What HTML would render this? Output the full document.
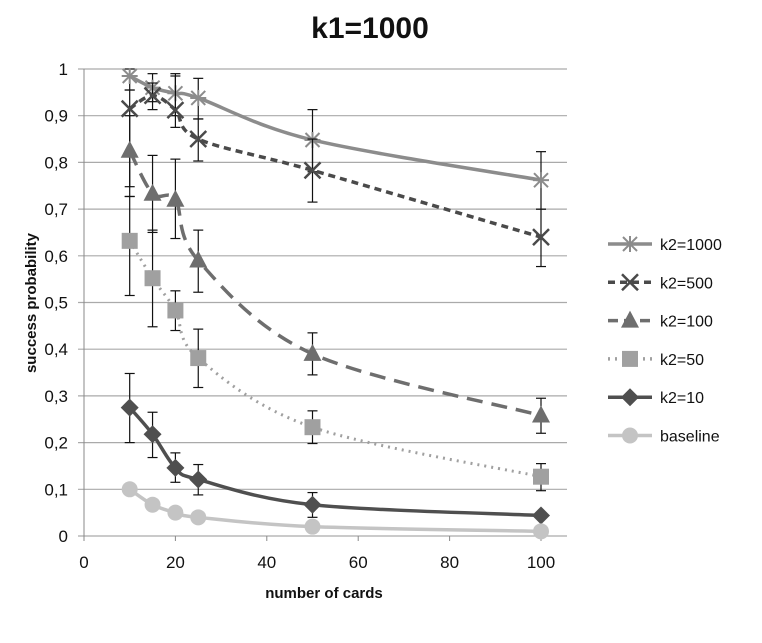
<!DOCTYPE html>
<html><head><meta charset="utf-8"><style>
body{margin:0;background:#fff;width:762px;height:638px;overflow:hidden}
svg{font-family:"Liberation Sans",sans-serif}
</style></head><body>
<svg id="s" width="762" height="638" xmlns="http://www.w3.org/2000/svg"></svg>
<script>
const X=v=>84+v*4.57, Y=v=>536-v*467;
let o='';
o+='<text x="370" y="38" font-size="30" font-weight="bold" text-anchor="middle" fill="#111">k1=1000</text>';
for(let i=0;i<=10;i++){const y=Y(i/10);o+=`<line x1="78" x2="567" y1="${y}" y2="${y}" stroke="#aaa" stroke-width="1.2"/>`;
o+=`<text x="68" y="${y+6}" font-size="17" text-anchor="end" fill="#111">${i==0?'0':i==10?'1':'0,'+i}</text>`;}
o+=`<line x1="84" x2="84" y1="${Y(1)}" y2="541" stroke="#888"/>`;
for(let i=0;i<=5;i++){const x=X(i*20);o+=`<line x1="${x}" x2="${x}" y1="536" y2="541" stroke="#888"/><text x="${x}" y="568" font-size="17" text-anchor="middle" fill="#111">${i*20}</text>`;}
o+='<text x="324" y="598" font-size="15" font-weight="bold" text-anchor="middle" fill="#111">number of cards</text>';
o+='<text transform="translate(36,303) rotate(-90)" font-size="15" font-weight="bold" text-anchor="middle" fill="#111">success probability</text>';
const xs=[10,15,20,25,50,100];
const S=[
{n:'k2=1000',c:'#8c8c8c',d:'',m:'star',v:[.985,.96,.948,.938,.848,.762],e:[[.955,1],[.93,.99],[.9,.99],[.893,.98],[.78,.913],[.7,.823]]},
{n:'k2=500',c:'#4a4a4a',d:'7,5',m:'x',v:[.915,.943,.912,.85,.783,.64],e:[[.727,.955],[.913,.97],[.875,.985],[.803,.893],[.715,.85],[.577,.7]]},
{n:'k2=100',c:'#6e6e6e',d:'16,9',m:'tri',v:[.825,.733,.72,.59,.39,.258],e:[[.748,.9],[.65,.815],[.637,.807],[.522,.655],[.345,.435],[.22,.295]]},
{n:'k2=50',c:'#a0a0a0',d:'2,5',m:'sq',v:[.632,.552,.483,.381,.233,.127],e:[[.515,.727],[.448,.655],[.44,.525],[.318,.443],[.198,.268],[.097,.155]]},
{n:'k2=10',c:'#4f4f4f',d:'',m:'dia',v:[.275,.218,.146,.121,.067,.044],e:[[.2,.348],[.168,.265],[.115,.178],[.088,.153],[.04,.093],null]},
{n:'baseline',c:'#c4c4c4',d:'',m:'circ',v:[.1,.067,.05,.04,.02,.01],e:null}];
function path(p){let d=`M${p[0][0]},${p[0][1]}`;for(let i=0;i<p.length-1;i++){const p0=p[i-1]||p[i],p1=p[i],p2=p[i+1],p3=p[i+2]||p2;const t=6;
d+=`C${p1[0]+(p2[0]-p0[0])/t},${p1[1]+(p2[1]-p0[1])/t} ${p2[0]-(p3[0]-p1[0])/t},${p2[1]-(p3[1]-p1[1])/t} ${p2[0]},${p2[1]}`;}return d;}
function mk(m,x,y,c){
if(m=='star')return `<g stroke="${c}" stroke-width="2"><line x1="${x-8}" y1="${y}" x2="${x+8}" y2="${y}"/><line x1="${x}" y1="${y-8}" x2="${x}" y2="${y+8}"/><line x1="${x-7}" y1="${y-7}" x2="${x+7}" y2="${y+7}"/><line x1="${x-7}" y1="${y+7}" x2="${x+7}" y2="${y-7}"/></g>`;
if(m=='x')return `<g stroke="${c}" stroke-width="2.5"><line x1="${x-8}" y1="${y-8}" x2="${x+8}" y2="${y+8}"/><line x1="${x-8}" y1="${y+8}" x2="${x+8}" y2="${y-8}"/></g>`;
if(m=='tri')return `<polygon points="${x},${y-10} ${x+9},${y+7} ${x-9},${y+7}" fill="${c}"/>`;
if(m=='sq')return `<rect x="${x-8}" y="${y-8}" width="16" height="16" fill="${c}"/>`;
if(m=='dia')return `<polygon points="${x},${y-9} ${x+9},${y} ${x},${y+9} ${x-9},${y}" fill="${c}"/>`;
return `<circle cx="${x}" cy="${y}" r="8" fill="${c}"/>`;}
S.forEach((s,k)=>{const p=xs.map((x,i)=>[X(x),Y(s.v[i])]);
o+=`<path d="${path(p)}" fill="none" stroke="${s.c}" stroke-width="${s.m=='sq'?3:3.5}" stroke-dasharray="${s.d}"/>`;
if(s.e)s.e.forEach((e,i)=>{if(!e)return;const x=X(xs[i]);o+=`<g stroke="#111" stroke-width="1.2"><line x1="${x}" x2="${x}" y1="${Y(e[0])}" y2="${Y(e[1])}"/><line x1="${x-5}" x2="${x+5}" y1="${Y(e[0])}" y2="${Y(e[0])}"/><line x1="${x-5}" x2="${x+5}" y1="${Y(e[1])}" y2="${Y(e[1])}"/></g>`;});
p.forEach(q=>o+=mk(s.m,q[0],q[1],s.c));
const ly=244+k*38.3;
o+=`<line x1="608" x2="652" y1="${ly}" y2="${ly}" stroke="${s.c}" stroke-width="3.5" stroke-dasharray="${s.d?(s.m=='tri'?'10,6':s.d):''}"/>`+mk(s.m,630,ly,s.c);
o+=`<text x="660" y="${ly+6}" font-size="16" fill="#111">${s.n}</text>`;});
document.getElementById('s').innerHTML=o;
</script>
</body></html>
